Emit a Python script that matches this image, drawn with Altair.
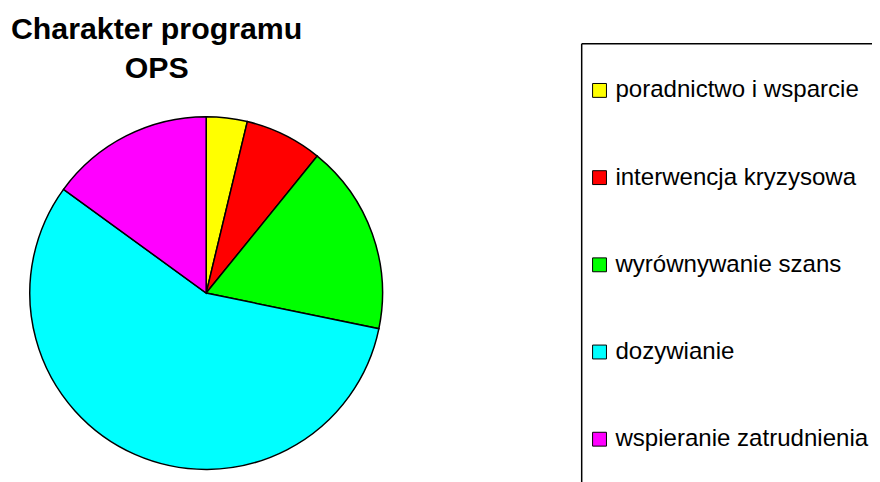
import altair as alt
import pandas as pd

categories = ["poradnictwo i wsparcie", "interwencja kryzysowa", "wyrównywanie szans",
              "dozywianie", "wspieranie zatrudnienia"]
shares = [3.75, 7.1, 17.4, 56.8, 15.0]
colors = ["#FFFF00", "#FF0000", "#00FF00", "#00FFFF", "#FF00FF"]
title_text = "Charakter programu\nOPS"

df = pd.DataFrame({"kategoria": categories, "udzial": shares, "idx": list(range(len(categories)))})

FONT = "Liberation Sans"
color_scale = alt.Scale(domain=categories, range=colors)

base = alt.Chart(df)

pie = base.mark_arc(outerRadius=178, stroke="black", strokeWidth=1.5).encode(
    theta=alt.Theta("udzial:Q", stack=True),
    order=alt.Order("idx:Q"),
    color=alt.Color("kategoria:N", scale=color_scale, legend=None),
    x=alt.value(200),
    y=alt.value(285.5),
)

ypos = alt.Y("kategoria:N", sort=categories, axis=None,
             scale=alt.Scale(type="point", range=[81, 433], padding=0))

legend_sq = base.mark_square(size=196, stroke="black", strokeWidth=1, opacity=1).encode(
    x=alt.value(597),
    y=ypos,
    color=alt.Color("kategoria:N", scale=color_scale, legend=None),
)

legend_txt = base.mark_text(align="left", baseline="middle", font=FONT, fontSize=24.3,
                            color="black").encode(
    x=alt.value(613),
    y=ypos,
    text="kategoria:N",
)

one = pd.DataFrame({"t": [title_text]})
title = alt.Chart(one).mark_text(align="center", baseline="alphabetic", font=FONT,
                                 fontSize=30.6, fontWeight="bold", lineBreak="\n",
                                 lineHeight=39, color="black").encode(
    x=alt.value(150), y=alt.value(29), text="t:N"
)

box_top = alt.Chart(one).mark_rule(color="black", strokeWidth=1.5).encode(
    x=alt.value(579), x2=alt.value(900), y=alt.value(34)
)
box_left = alt.Chart(one).mark_rule(color="black", strokeWidth=1.5).encode(
    x=alt.value(579), y=alt.value(34), y2=alt.value(520)
)

chart = alt.layer(pie, legend_sq, legend_txt, title, box_top, box_left).properties(
    width=872, height=474, autosize=alt.AutoSizeParams(type="none"), padding=0
).configure_view(stroke=None)

chart.save("out.html", embed_options={"renderer": "svg", "actions": False})
